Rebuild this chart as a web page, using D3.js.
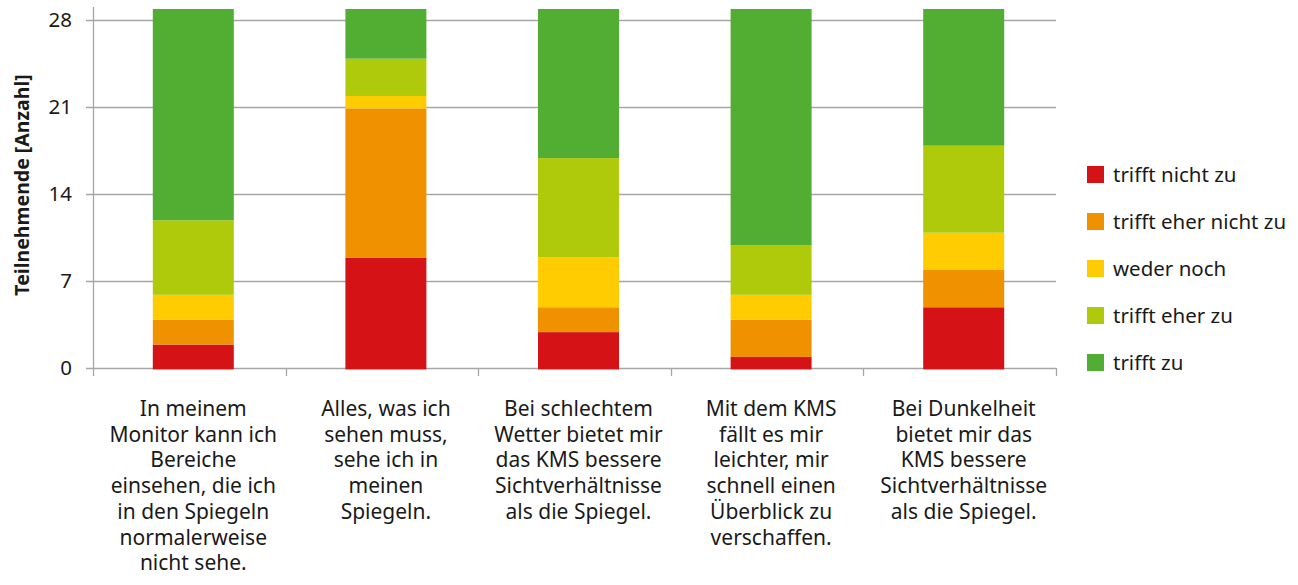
<!DOCTYPE html>
<html>
<head>
<meta charset="utf-8">
<script src="https://cdn.jsdelivr.net/npm/d3@7"></script>
<style>
  body { margin: 0; background: #fff; }
  svg text { font-family: "Noto Sans", "Open Sans", sans-serif; fill: #1a1a1a; }
</style>
</head>
<body>
<svg id="chart" width="1298" height="585"></svg>
<script>
// categories (wrapped as in the original)
var categories = [
  ['In meinem', 'Monitor kann ich', 'Bereiche', 'einsehen, die ich', 'in den Spiegeln', 'normalerweise', 'nicht sehe.'],
  ['Alles, was ich', 'sehen muss,', 'sehe ich in', 'meinen', 'Spiegeln.'],
  ['Bei schlechtem', 'Wetter bietet mir', 'das KMS bessere', 'Sichtverhältnisse', 'als die Spiegel.'],
  ['Mit dem KMS', 'fällt es mir', 'leichter, mir', 'schnell einen', 'Überblick zu', 'verschaffen.'],
  ['Bei Dunkelheit', 'bietet mir das', 'KMS bessere', 'Sichtverhältnisse', 'als die Spiegel.']
];
var seriesNames = ['trifft nicht zu', 'trifft eher nicht zu', 'weder noch', 'trifft eher zu', 'trifft zu'];
var seriesColors = ['#d51317', '#f09100', '#fecc00', '#afca0b', '#52ae32'];
var trifftNicht = [2, 9, 3, 1, 5];
var eherNicht = [2, 12, 2, 3, 3];
var wederNoch = [2, 1, 4, 2, 3];
var eherZu = [6, 3, 8, 4, 7];
var trifftZu = [17, 4, 12, 19, 11];
var yTicks = [0, 7, 14, 21, 28];

var svg = d3.select('#chart');
var margin = {left: 93, top: 20, right: 242, bottom: 217};
var width = 1298 - margin.left - margin.right;
var height = 585 - margin.top - margin.bottom;

var values = [trifftNicht, eherNicht, wederNoch, eherZu, trifftZu];
var rows = categories.map(function(c, i) {
  var r = {idx: i};
  seriesNames.forEach(function(s, j) { r[s] = values[j][i]; });
  return r;
});
var stacked = d3.stack().keys(seriesNames)(rows);

var x = d3.scaleBand().domain(d3.range(categories.length)).range([0, width]);
var barW = 81;
var barShift = 4; // bars sit a little right of the category centre
function barCenter(i) { return x(i) + x.bandwidth() / 2 + barShift; }
var y = d3.scaleLinear().domain([0, 28]).range([height, 0]);
var barBase = 1.4; // bars start just below the axis line

var g = svg.append('g').attr('transform', 'translate(' + margin.left + ',' + margin.top + ')');

// gridlines
g.append('g').selectAll('line').data(yTicks).join('line')
  .attr('x1', -7).attr('x2', width)
  .attr('y1', function(d) { return Math.round(y(d)) + 0.5; })
  .attr('y2', function(d) { return Math.round(y(d)) + 0.5; })
  .attr('stroke', '#a6a6a6').attr('stroke-width', 1.3);

// y tick labels
g.append('g').selectAll('text').data(yTicks).join('text')
  .attr('x', -21).attr('y', function(d) { return y(d); })
  .attr('dy', '0.35em').attr('text-anchor', 'end')
  .style('font-size', '20.5px')
  .text(function(d) { return d; });

// y axis line
g.append('line').attr('x1', 0.5).attr('x2', 0.5).attr('y1', -13).attr('y2', height + 1)
  .attr('stroke', '#a6a6a6').attr('stroke-width', 1.3);

// category ticks
g.append('g').selectAll('line').data(d3.range(categories.length + 1)).join('line')
  .attr('x1', function(d) { return Math.round(d * x.step()) + 0.5; })
  .attr('x2', function(d) { return Math.round(d * x.step()) + 0.5; })
  .attr('y1', height).attr('y2', height + 8)
  .attr('stroke', '#a6a6a6').attr('stroke-width', 1.3);

// bars
g.append('g').selectAll('g').data(stacked).join('g')
  .attr('fill', function(d, i) { return seriesColors[i]; })
  .selectAll('rect').data(function(d) { return d; }).join('rect')
  .attr('x', function(d, i) { return barCenter(i) - barW / 2; })
  .attr('width', barW)
  .attr('y', function(d) { return y(d[1]) + barBase; })
  .attr('height', function(d) { return y(d[0]) - y(d[1]); });

// category labels
var labels = g.append('g').selectAll('text').data(categories).join('text')
  .attr('text-anchor', 'middle')
  .attr('transform', function(d, i) { return 'translate(' + barCenter(i) + ',' + (height + 48) + ')'; })
  .style('font-size', '21px');
labels.selectAll('tspan').data(function(d) { return d; }).join('tspan')
  .attr('x', 0).attr('dy', function(d, i) { return i === 0 ? 0 : 25.7; })
  .text(function(d) { return d; });

// y title
svg.append('text')
  .attr('transform', 'translate(29,185) rotate(-90)')
  .attr('text-anchor', 'middle')
  .style('font-size', '19.5px').style('font-weight', 'bold')
  .text('Teilnehmende [Anzahl]');

// legend
var legend = svg.append('g').attr('transform', 'translate(1087,166)');
var items = legend.selectAll('g').data(seriesNames).join('g')
  .attr('transform', function(d, i) { return 'translate(0,' + (i * 47) + ')'; });
items.append('rect').attr('width', 17).attr('height', 17)
  .attr('fill', function(d, i) { return seriesColors[i]; });
items.append('text').attr('x', 26).attr('y', 16)
  .style('font-size', '20.5px')
  .text(function(d) { return d; });
</script>
</body>
</html>
